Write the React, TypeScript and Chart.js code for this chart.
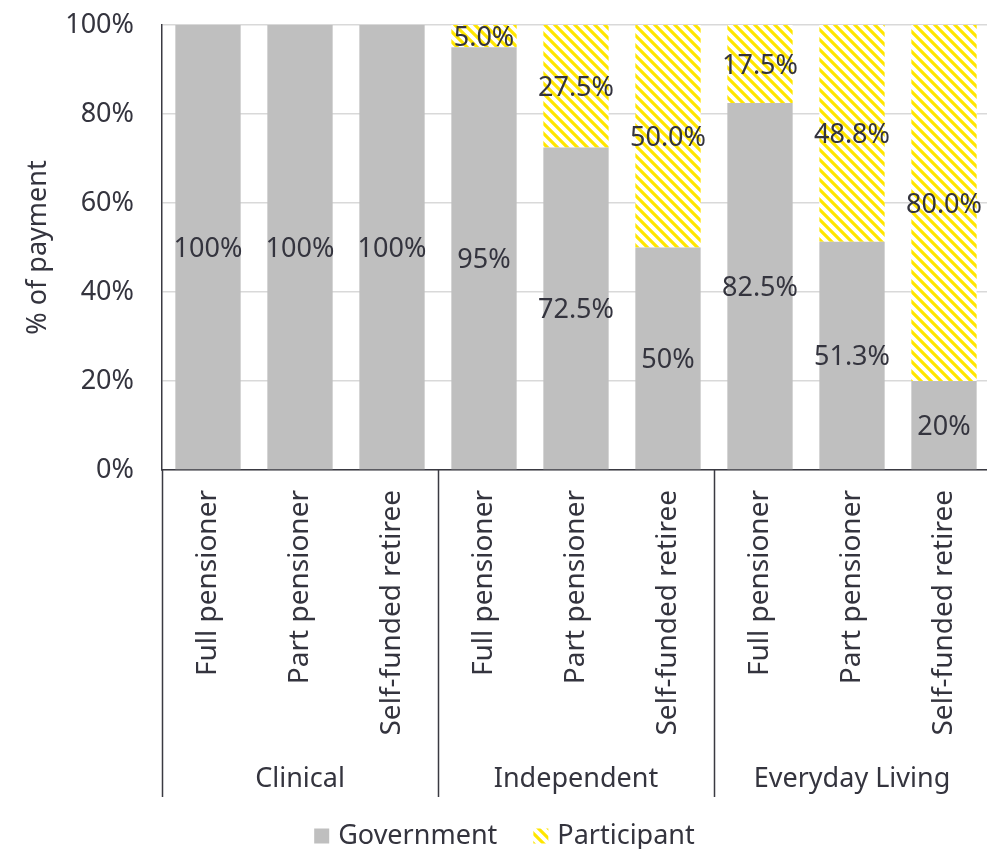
import { useEffect, useRef } from 'react';
import { Chart, registerables } from 'chart.js';

Chart.register(...registerables);

const categories = [
  'Full pensioner', 'Part pensioner', 'Self-funded retiree',
  'Full pensioner', 'Part pensioner', 'Self-funded retiree',
  'Full pensioner', 'Part pensioner', 'Self-funded retiree',
];
const groups = ['Clinical', 'Independent', 'Everyday Living'];
const groupSize = 3;
const governmentShare = [100, 100, 100, 95, 72.5, 50, 82.5, 51.3, 20];
const participantShare = [0, 0, 0, 5.0, 27.5, 50.0, 17.5, 48.8, 80.0];
const yTicks = [0, 20, 40, 60, 80, 100];

const FONT = "'Noto Sans', sans-serif";
const FONT_SIZE = 27;
const TEXT = '#34343e';
const AXIS = '#3a3a42';
const GREY = '#bfbfbf';
const YELLOW = '#ffe600';

// The plot runs a few pixels past the visible frame on the right
const CANVAS_W = 990;
const VIEW_W = 987;
const VIEW_H = 849;

function makeHatch(): CanvasPattern | string {
  const size = 10;
  const tile = document.createElement('canvas');
  tile.width = size;
  tile.height = size;
  const c = tile.getContext('2d');
  if (!c) return YELLOW;
  c.fillStyle = '#ffffff';
  c.fillRect(0, 0, size, size);
  c.strokeStyle = YELLOW;
  c.lineWidth = 3.2;
  c.lineCap = 'square';
  for (const off of [-size, 0, size]) {
    c.beginPath();
    c.moveTo(off - 2, -2);
    c.lineTo(off + size + 2, size + 2);
    c.stroke();
  }
  const ctx = document.createElement('canvas').getContext('2d');
  const p = ctx ? ctx.createPattern(tile, 'repeat') : null;
  return p || YELLOW;
}

export default function App() {
  const canvasRef = useRef<HTMLCanvasElement | null>(null);

  useEffect(() => {
    const canvas = canvasRef.current;
    if (!canvas) return;
    const hatch = makeHatch();

    // Segment value labels centred in each stacked piece
    const valueLabels = {
      id: 'valueLabels',
      afterDatasetsDraw(chart: any) {
        const { ctx } = chart;
        ctx.save();
        ctx.font = `${FONT_SIZE}px ${FONT}`;
        ctx.fillStyle = TEXT;
        ctx.textAlign = 'center';
        ctx.textBaseline = 'middle';
        chart.data.datasets.forEach((ds: any, i: number) => {
          const meta = chart.getDatasetMeta(i);
          meta.data.forEach((bar: any, j: number) => {
            const v = ds.data[j];
            if (!v) return;
            const { x, y, base } = bar.getProps(['x', 'y', 'base'], true);
            const text = i === 0 ? `${v}%` : `${v.toFixed(1)}%`;
            ctx.fillText(text, x, (y + base) / 2 + 2);
          });
        });
        ctx.restore();
      },
    };

    // Group separators, group names and legend below the axis
    const groupAxis = {
      id: 'groupAxis',
      afterDraw(chart: any) {
        const { ctx, chartArea } = chart;
        const xs = chart.scales.x;
        const step = (chartArea.right - chartArea.left) / categories.length;
        const lineBottom = 797;
        ctx.save();
        ctx.strokeStyle = AXIS;
        ctx.lineWidth = 1.5;
        for (let g = 0; g <= groups.length; g++) {
          const px = Math.round(xs.getPixelForValue(g * groupSize) - step / 2) + 0.5;
          ctx.beginPath();
          ctx.moveTo(px, chartArea.bottom);
          ctx.lineTo(px, lineBottom);
          ctx.stroke();
        }
        ctx.font = `${FONT_SIZE}px ${FONT}`;
        ctx.fillStyle = TEXT;
        ctx.textAlign = 'center';
        ctx.textBaseline = 'middle';
        groups.forEach((name, g) => {
          const a = xs.getPixelForValue(g * groupSize);
          const b = xs.getPixelForValue(g * groupSize + groupSize - 1);
          ctx.fillText(name, (a + b) / 2, 779);
        });

        // legend
        const ly = 836;
        const box = 15;
        const items = [
          { label: 'Government', fill: GREY as any },
          { label: 'Participant', fill: hatch as any },
        ];
        const gap = 9;
        const between = 36;
        const widths = items.map((it) => box + gap + ctx.measureText(it.label).width);
        const total = widths.reduce((s, w) => s + w, 0) + between;
        let lx = VIEW_W / 2 + 11 - total / 2;
        ctx.textAlign = 'left';
        items.forEach((it, k) => {
          ctx.fillStyle = it.fill;
          ctx.fillRect(lx, ly - box / 2, box, box);
          ctx.fillStyle = TEXT;
          ctx.fillText(it.label, lx + box + gap, ly);
          lx += widths[k] + between;
        });
        ctx.restore();
      },
    };

    const chart = new Chart(canvas, {
      type: 'bar',
      data: {
        labels: categories,
        datasets: [
          {
            label: 'Government',
            data: governmentShare,
            backgroundColor: GREY,
            borderWidth: 0,
            barPercentage: 0.71,
            categoryPercentage: 1,
          },
          {
            label: 'Participant',
            data: participantShare,
            backgroundColor: hatch as any,
            borderWidth: 0,
            barPercentage: 0.71,
            categoryPercentage: 1,
          },
        ],
      },
      options: {
        responsive: false,
        animation: false,
        layout: { padding: { top: 25, right: 0, bottom: 0, left: 0 } },
        plugins: {
          legend: { display: false },
          tooltip: { enabled: false },
        },
        scales: {
          x: {
            stacked: true,
            grid: { display: false, drawTicks: false },
            border: { display: true, color: AXIS, width: 1.5 },
            ticks: {
              minRotation: 90,
              maxRotation: 90,
              autoSkip: false,
              padding: 20,
              color: TEXT,
              font: { family: FONT, size: 28 },
            },
            afterFit(scale: any) {
              scale.height = 379;
              scale.paddingLeft = 0;
              scale.paddingRight = 0;
            },
          },
          y: {
            stacked: true,
            min: 0,
            max: 100,
            afterBuildTicks(scale: any) {
              scale.ticks = yTicks.map((v) => ({ value: v }));
            },
            grid: { color: '#d9d9d9', lineWidth: 1.5, drawTicks: false },
            border: { display: true, color: AXIS, width: 1.5 },
            ticks: {
              padding: 28,
              color: TEXT,
              font: { family: FONT, size: FONT_SIZE },
              callback: (v: any) => `${v}%`,
            },
            title: {
              display: true,
              text: '% of payment',
              color: TEXT,
              font: { family: FONT, size: FONT_SIZE },
              padding: { top: 22, bottom: 0 },
            },
            afterFit(scale: any) {
              scale.width = 162;
              scale.paddingTop = 0;
              scale.paddingBottom = 0;
            },
          },
        },
      },
      plugins: [valueLabels, groupAxis],
    });

    return () => chart.destroy();
  }, []);

  return (
    <div style={{ position: 'absolute', left: 0, top: 0, width: VIEW_W, height: VIEW_H, overflow: 'hidden', background: '#fff' }}>
      <canvas ref={canvasRef} width={CANVAS_W} height={VIEW_H} style={{ display: 'block' }} />
    </div>
  );
}
